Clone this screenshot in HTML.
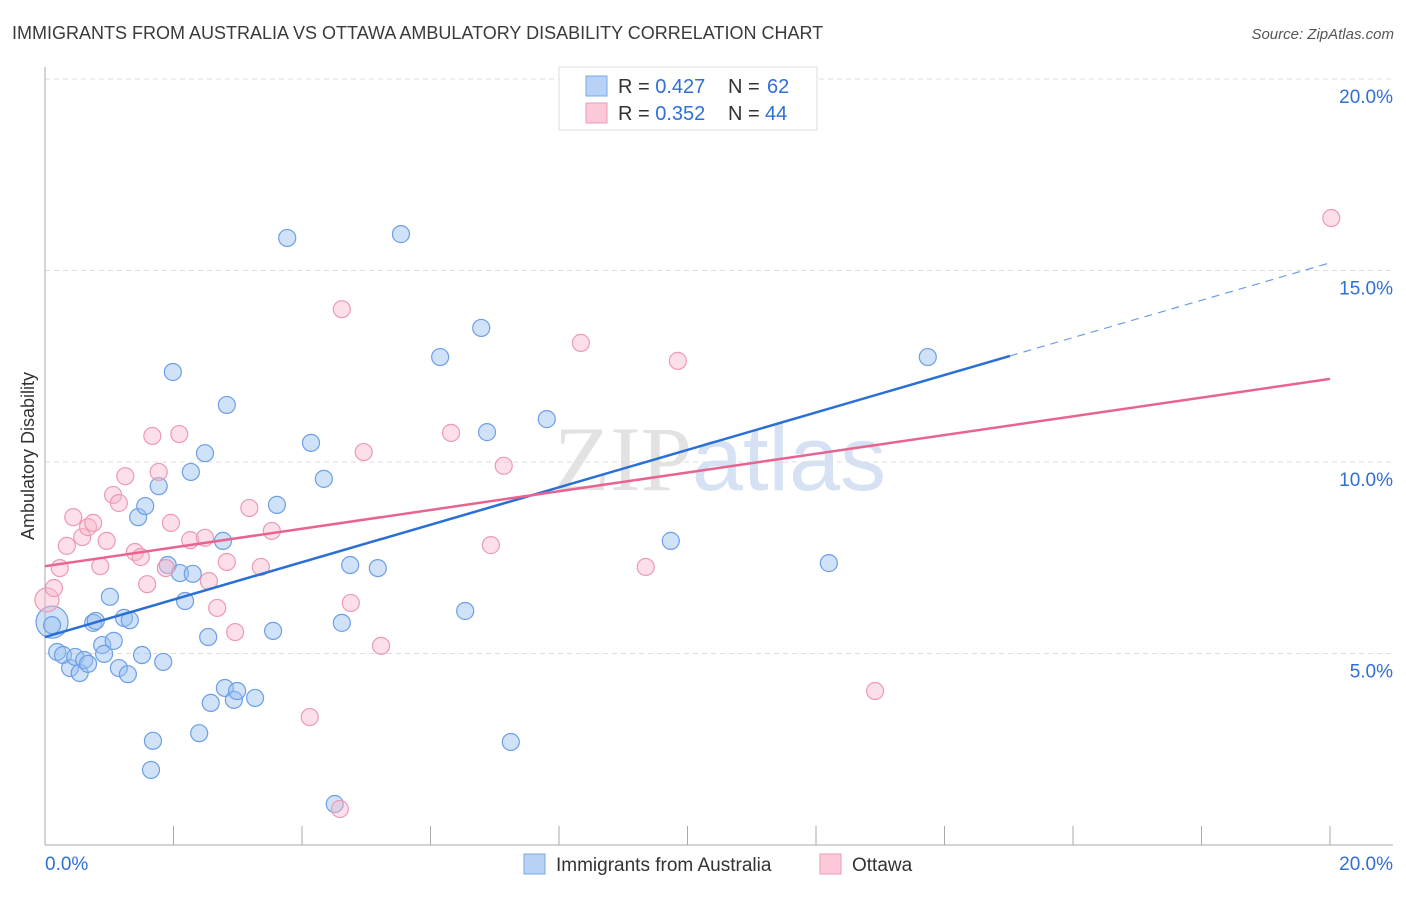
<!DOCTYPE html>
<html><head><meta charset="utf-8"><style>
body{margin:0;background:#fff;font-family:"Liberation Sans",sans-serif}
svg text{font-family:"Liberation Sans",sans-serif}
</style></head><body>
<svg id="chart" width="1406" height="892" xmlns="http://www.w3.org/2000/svg">
<text x="12" y="39" font-size="18" fill="#3a3a3a">IMMIGRANTS FROM AUSTRALIA VS OTTAWA AMBULATORY DISABILITY CORRELATION CHART</text>
<text x="1394" y="39" font-size="15" font-style="italic" fill="#555" text-anchor="end">Source: ZipAtlas.com</text>
<text x="720" y="490" font-size="92" text-anchor="middle" fill="#e6e9ee"><tspan font-family="Liberation Serif" fill="#e2e2e2">ZIP</tspan><tspan fill="#d6e2f3">atlas</tspan></text>
<g id="grid"></g>
<g id="axes"></g>
<g id="pts"></g>
<g id="trends"></g>
<text transform="translate(34,456) rotate(-90)" font-size="18" fill="#333" text-anchor="middle">Ambulatory Disability</text>
<g>
<rect x="559" y="67" width="258" height="63" fill="#fff" stroke="#ddd"/>
<rect x="586" y="76" width="21" height="20" fill="#b8d2f5" stroke="#7aa8e8"/>
<rect x="586" y="103" width="21" height="20" fill="#fbc9d8" stroke="#ee9ab5"/>
<text x="618" y="93" font-size="20" fill="#333">R = <tspan fill="#2f6fd6">0.427</tspan><tspan x="728">N = </tspan><tspan x="767" fill="#2f6fd6">62</tspan></text>
<text x="618" y="120" font-size="20" fill="#333">R = <tspan fill="#2f6fd6">0.352</tspan><tspan x="728">N = </tspan><tspan x="765" fill="#2f6fd6">44</tspan></text>
</g>
<g><rect x="524" y="854" width="21" height="20" fill="#b8d2f5" stroke="#7aa8e8"/><text x="556" y="871" font-size="19" fill="#333">Immigrants from Australia</text></g>
<g><rect x="820" y="854" width="21" height="20" fill="#fbc9d8" stroke="#ee9ab5"/><text x="852" y="871" font-size="19" fill="#333">Ottawa</text></g>
</svg>
<script>
const blueX=[0.11,0.11,0.19,0.28,0.39,0.47,0.54,0.61,0.67,0.75,0.79,0.89,0.92,1.01,1.07,1.15,1.23,1.29,1.32,1.45,1.51,1.56,1.68,1.65,1.77,1.84,1.91,1.99,2.10,2.18,2.27,2.30,2.40,2.49,2.54,2.58,2.77,2.80,2.83,2.94,2.99,3.27,3.55,3.61,3.77,4.14,4.34,4.51,4.62,4.75,5.18,5.54,6.15,6.54,6.79,6.88,7.25,7.81,9.74,12.20,13.74];
const blueY=[5.82,5.74,5.04,4.96,4.62,4.91,4.49,4.83,4.73,5.80,5.85,5.22,4.99,6.48,5.33,4.62,5.93,4.46,5.87,8.56,4.96,8.85,2.72,1.96,9.37,4.78,7.31,12.35,7.10,6.37,9.74,7.08,2.92,10.23,5.43,3.71,7.94,4.10,11.49,3.79,4.02,3.84,5.59,8.88,15.85,10.50,9.56,1.07,5.80,7.31,7.23,15.95,12.74,6.11,13.50,10.78,2.69,11.12,7.94,7.36,12.74];
const pinkX=[0.03,0.14,0.23,0.34,0.44,0.58,0.67,0.75,0.86,0.96,1.06,1.15,1.25,1.40,1.49,1.59,1.67,1.77,1.88,1.96,2.09,2.26,2.49,2.55,2.68,2.83,2.96,3.18,3.36,3.53,4.12,4.59,4.62,4.76,4.96,5.23,6.32,6.94,7.14,8.34,9.35,9.85,12.92,20.02];
const pinkY=[6.40,6.71,7.23,7.81,8.56,8.04,8.30,8.41,7.28,7.94,9.14,8.93,9.63,7.65,7.52,6.81,10.68,9.74,7.23,8.41,10.73,7.96,8.02,6.89,6.19,7.39,5.56,8.80,7.26,8.20,3.34,0.94,13.99,6.32,10.26,5.20,10.76,7.83,9.90,13.11,7.26,12.64,4.02,16.37];
const blueTrend=[5.43,12.77,15.20]; const blueTrendX=[0,15.02,20];
const pinkTrend=[7.28,12.17]; const pinkTrendX=[0,20];
const yTicks=[5,10,15,20];
const xTicks=[0,2,4,6,8,10,12,14,16,18,20];
const NS="http://www.w3.org/2000/svg";
const sx=v=>45+v*64.25, sy=v=>845-v*38.3;
function mk(parent,tag,attrs){const e=document.createElementNS(NS,tag);for(const k in attrs)e.setAttribute(k,attrs[k]);document.getElementById(parent).appendChild(e);return e;}
yTicks.forEach(t=>{
 const l=mk('grid','line',{x1:45,x2:1393,y1:sy(t),y2:sy(t),stroke:'#ddd','stroke-dasharray':'5,4'});
 
 
 const tx=mk('grid','text',{x:1393,y:sy(t)+24,'font-size':19,fill:'#2f6fd6','text-anchor':'end'});
 tx.textContent=t.toFixed(1)+'%';
 
 
});
mk('axes','line',{x1:45,x2:45,y1:67,y2:845,stroke:'#aaa'});
mk('axes','line',{x1:45,x2:1393,y1:845,y2:845,stroke:'#aaa'});
xTicks.forEach(t=>{
 const l=mk('axes','line',{x1:sx(t),x2:sx(t),y1:826,y2:845,stroke:'#aaa'});
 
 
});
const x0=mk('axes','text',{x:45,y:870,'font-size':19,fill:'#2f6fd6'});x0.textContent='0.0%';


const x1=mk('axes','text',{x:1393,y:870,'font-size':19,fill:'#2f6fd6','text-anchor':'end'});x1.textContent='20.0%';


function pts(X,Y,fill,stroke,name){X.forEach((x,i)=>{
 const r=(i===0)?(name==='point-australia'?16:12):8.5;
 const c=mk('pts','circle',{cx:sx(x),cy:sy(Y[i]),r:r,fill:fill,stroke:stroke,'stroke-width':1.2});
 
 
});}
pts(blueX,blueY,'rgba(150,190,240,0.45)','#6d9ee6','point-australia');
pts(pinkX,pinkY,'rgba(248,185,205,0.45)','#ec9ab4','point-ottawa');
const bl=mk('trends','line',{x1:sx(blueTrendX[0]),y1:sy(blueTrend[0]),x2:sx(blueTrendX[1]),y2:sy(blueTrend[1]),stroke:'#2a6fd6','stroke-width':2.5});


const bd=mk('trends','line',{x1:sx(blueTrendX[1]),y1:sy(blueTrend[1]),x2:sx(blueTrendX[2]),y2:sy(blueTrend[2]),stroke:'#6d9ee6','stroke-width':1.2,'stroke-dasharray':'8,6'});


const pl=mk('trends','line',{x1:sx(pinkTrendX[0]),y1:sy(pinkTrend[0]),x2:sx(pinkTrendX[1]),y2:sy(pinkTrend[1]),stroke:'#e8648f','stroke-width':2.5});


</script>
</body></html>
